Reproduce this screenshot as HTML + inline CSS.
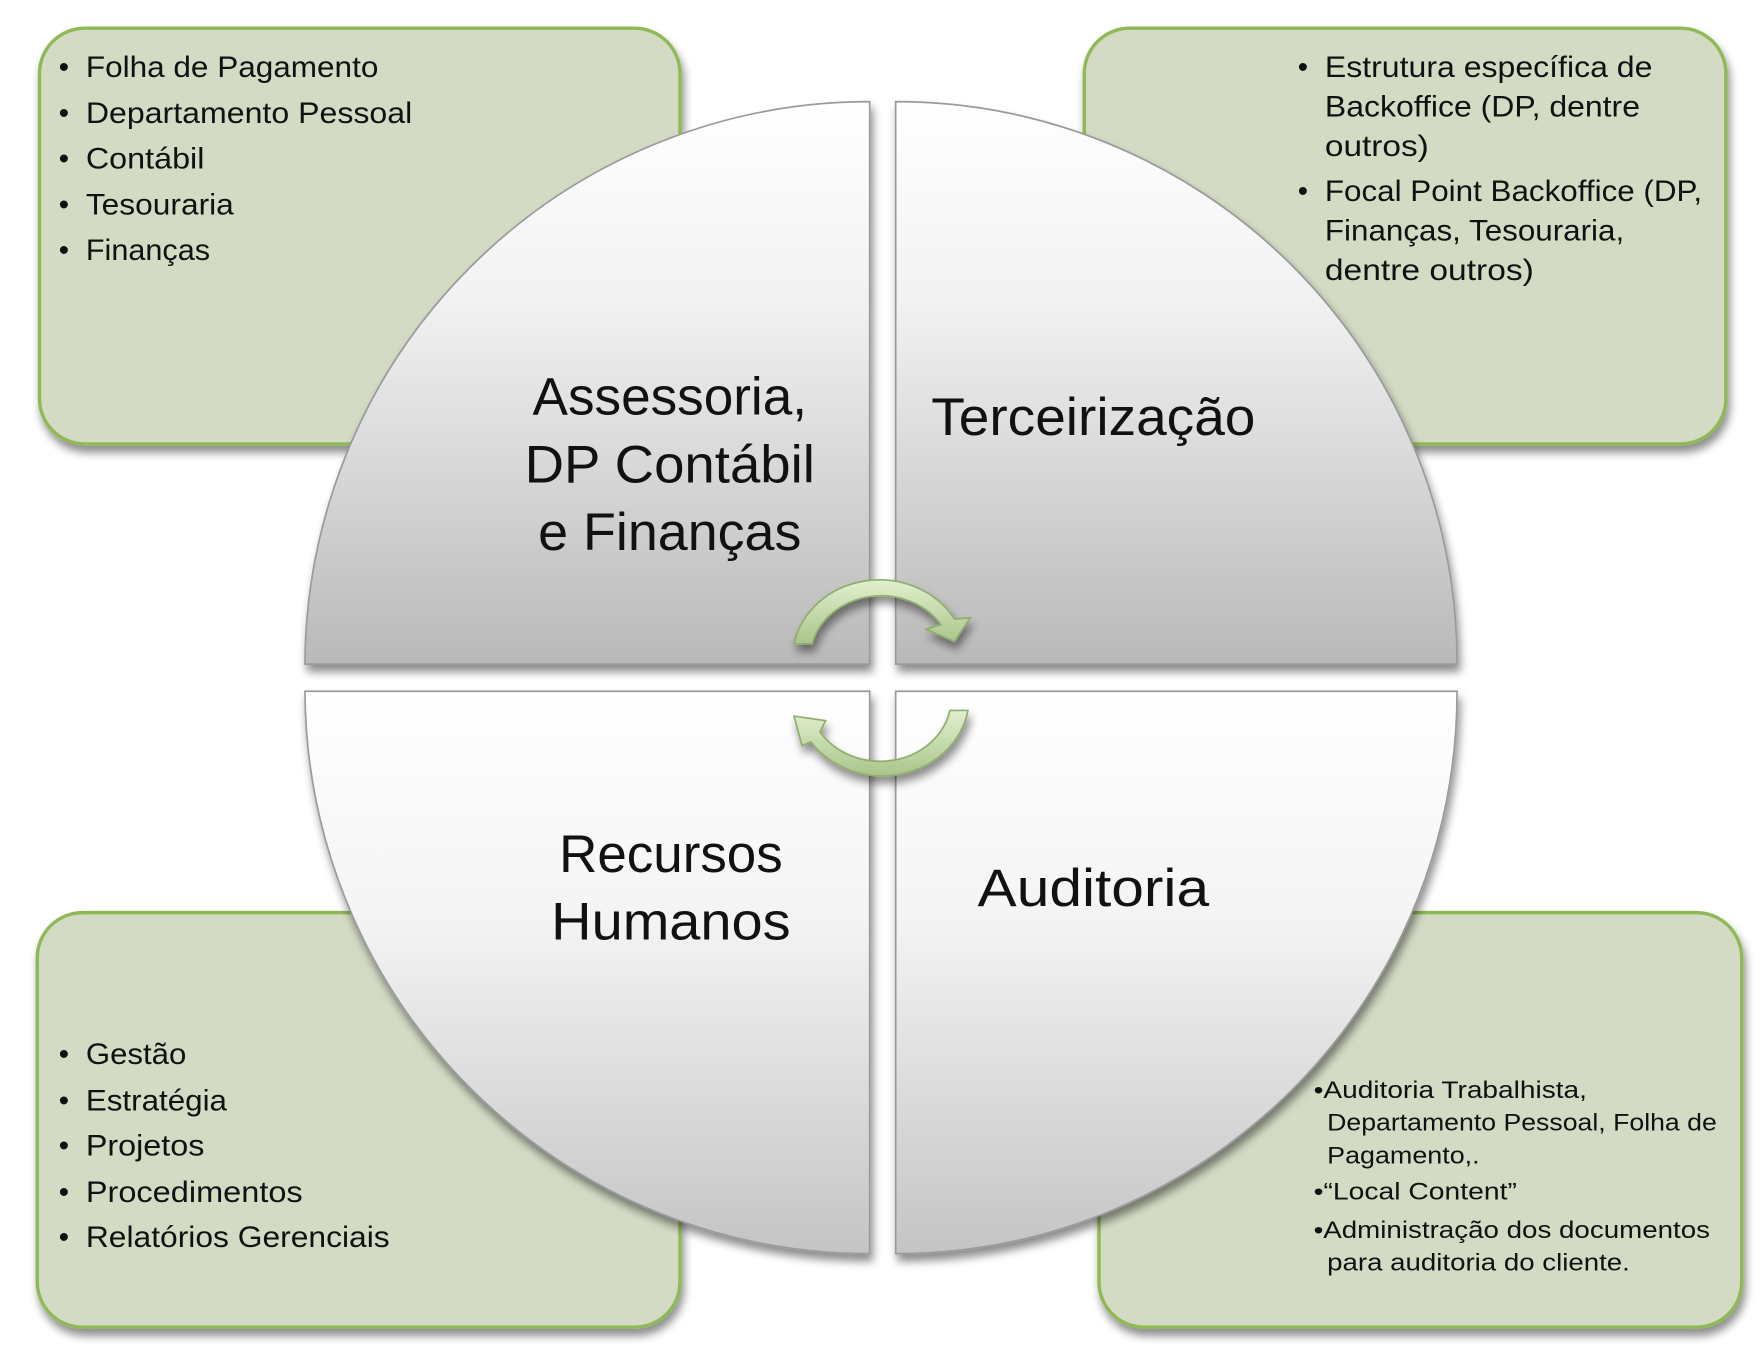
<!DOCTYPE html>
<html><head><meta charset="utf-8"><style>html,body{margin:0;padding:0;background:#fff}svg{display:block}</style></head><body>
<svg width="1762" height="1352" viewBox="0 0 1560 1197" xmlns="http://www.w3.org/2000/svg" font-family="'Liberation Sans', sans-serif">
<defs>
<filter id="sh" x="-10%" y="-10%" width="130%" height="130%"><feGaussianBlur in="SourceAlpha" stdDeviation="4"/><feOffset dx="2" dy="6"/><feComponentTransfer><feFuncA type="linear" slope="0.45"/></feComponentTransfer><feMerge><feMergeNode/><feMergeNode in="SourceGraphic"/></feMerge></filter>
<linearGradient id="gt" x1="0" y1="0" x2="0" y2="1"><stop offset="0" stop-color="#ffffff"/><stop offset="0.35" stop-color="#f2f2f2"/><stop offset="1" stop-color="#b9b9b9"/></linearGradient>
<linearGradient id="gb" x1="0" y1="0" x2="0" y2="1"><stop offset="0" stop-color="#ffffff"/><stop offset="0.4" stop-color="#f4f4f4"/><stop offset="1" stop-color="#c4c4c4"/></linearGradient>
<linearGradient id="ga" x1="0" y1="0" x2="0" y2="1"><stop offset="0" stop-color="#e2efcf"/><stop offset="1" stop-color="#a9c58a"/></linearGradient>
</defs>
<g fill="#d3dbc5" stroke="#8fb955" stroke-width="3" filter="url(#sh)">
<rect x="35" y="25" width="567" height="368" rx="40"/>
<rect x="960" y="25" width="568" height="368" rx="40"/>
<rect x="33" y="808" width="569" height="367" rx="40"/>
<rect x="973" y="808" width="569" height="367" rx="40"/>
</g>
<g font-size="26" fill="#111">
<text x="52" y="68">•</text><text x="76" y="68" textLength="259" lengthAdjust="spacingAndGlyphs">Folha de Pagamento</text>
<text x="52" y="109">•</text><text x="76" y="109" textLength="289" lengthAdjust="spacingAndGlyphs">Departamento Pessoal</text>
<text x="52" y="149">•</text><text x="76" y="149" textLength="105" lengthAdjust="spacingAndGlyphs">Contábil</text>
<text x="52" y="190">•</text><text x="76" y="190" textLength="131" lengthAdjust="spacingAndGlyphs">Tesouraria</text>
<text x="52" y="230">•</text><text x="76" y="230" textLength="110" lengthAdjust="spacingAndGlyphs">Finanças</text>
<text x="1149" y="68">•</text><text x="1173" y="68" textLength="290" lengthAdjust="spacingAndGlyphs">Estrutura específica de</text>
<text x="1173" y="103" textLength="279" lengthAdjust="spacingAndGlyphs">Backoffice (DP, dentre</text>
<text x="1173" y="138" textLength="92" lengthAdjust="spacingAndGlyphs">outros)</text>
<text x="1149" y="178">•</text><text x="1173" y="178" textLength="334" lengthAdjust="spacingAndGlyphs">Focal Point Backoffice (DP,</text>
<text x="1173" y="213" textLength="265" lengthAdjust="spacingAndGlyphs">Finanças, Tesouraria,</text>
<text x="1173" y="248" textLength="185" lengthAdjust="spacingAndGlyphs">dentre outros)</text>
<text x="52" y="942">•</text><text x="76" y="942" textLength="89" lengthAdjust="spacingAndGlyphs">Gestão</text>
<text x="52" y="983">•</text><text x="76" y="983" textLength="125" lengthAdjust="spacingAndGlyphs">Estratégia</text>
<text x="52" y="1023">•</text><text x="76" y="1023" textLength="105" lengthAdjust="spacingAndGlyphs">Projetos</text>
<text x="52" y="1064">•</text><text x="76" y="1064" textLength="192" lengthAdjust="spacingAndGlyphs">Procedimentos</text>
<text x="52" y="1104">•</text><text x="76" y="1104" textLength="269" lengthAdjust="spacingAndGlyphs">Relatórios Gerenciais</text>
</g>
<g font-size="21" fill="#111">
<text x="1163" y="972" textLength="242" lengthAdjust="spacingAndGlyphs">•Auditoria Trabalhista,</text>
<text x="1175" y="1001" textLength="345" lengthAdjust="spacingAndGlyphs">Departamento Pessoal, Folha de</text>
<text x="1175" y="1030" textLength="135" lengthAdjust="spacingAndGlyphs">Pagamento,.</text>
<text x="1163" y="1062" textLength="180" lengthAdjust="spacingAndGlyphs">•“Local Content”</text>
<text x="1163" y="1096" textLength="351" lengthAdjust="spacingAndGlyphs">•Administração dos documentos</text>
<text x="1175" y="1125" textLength="268" lengthAdjust="spacingAndGlyphs">para auditoria do cliente.</text>
</g>
<g filter="url(#sh)" stroke="#9a9a9a" stroke-width="1.5">
<path d="M770 588 L270 588 A500 500 0 0 1 770 90 Z" fill="url(#gt)"/>
<path d="M793 588 L793 90 A497 497 0 0 1 1290 588 Z" fill="url(#gt)"/>
<path d="M770 612 L770 1110 A500 500 0 0 1 270 612 Z" fill="url(#gb)"/>
<path d="M793 612 L1290 612 A497 497 0 0 1 793 1110 Z" fill="url(#gb)"/>
</g>
<g font-size="47" fill="#111" text-anchor="middle">
<text x="593" y="367" textLength="243" lengthAdjust="spacingAndGlyphs">Assessoria,</text>
<text x="593" y="427" textLength="257" lengthAdjust="spacingAndGlyphs">DP Contábil</text>
<text x="593" y="487" textLength="233" lengthAdjust="spacingAndGlyphs">e Finanças</text>
<text x="968" y="385" textLength="287" lengthAdjust="spacingAndGlyphs">Terceirização</text>
<text x="594" y="772" textLength="198" lengthAdjust="spacingAndGlyphs">Recursos</text>
<text x="594" y="832" textLength="212" lengthAdjust="spacingAndGlyphs">Humanos</text>
<text x="968" y="802" textLength="205" lengthAdjust="spacingAndGlyphs">Auditoria</text>
</g>
<g filter="url(#sh)">
<path d="M703 570 A77 70 0 0 1 845 548 L859 547 L845 568 L820 557 L833 553 A63 56 0 0 0 719 570 Z" fill="url(#ga)" stroke="#8fae6c" stroke-width="1.5"/>
<path d="M857 629 A77 70 0 0 1 718 657 L710 660 L703 634 L731 638 L726 648 A63 56 0 0 0 841 629 Z" fill="url(#ga)" stroke="#8fae6c" stroke-width="1.5"/>
</g>
</svg>
</body></html>
